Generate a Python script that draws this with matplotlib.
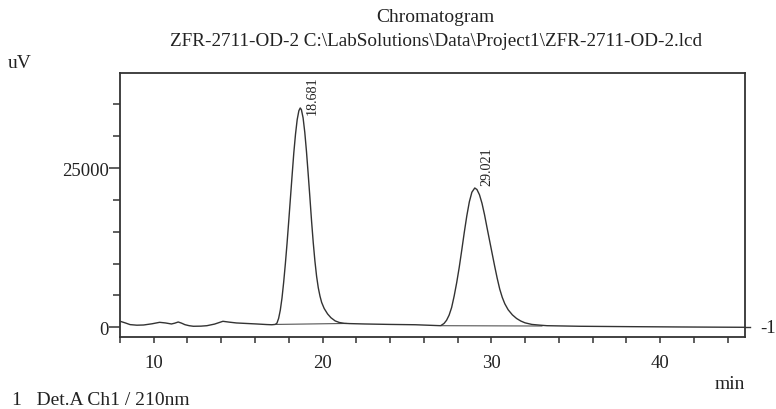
import matplotlib
matplotlib.use("Agg")
from matplotlib import pyplot as plt
from matplotlib.ticker import MultipleLocator

# detector trace, Det.A Ch1 210nm (time in min, signal in uV)
time_min = [8.00, 8.30, 8.60, 9.00, 9.40, 9.90, 10.35, 10.70, 11.05, 11.25, 11.45,
            11.65, 11.85, 12.10, 12.35, 12.80, 13.15, 13.60, 14.10, 14.50, 14.90,
            15.50, 16.10, 16.70, 17.00, 17.20, 17.30, 17.40, 17.50, 17.60, 17.70,
            17.80, 17.90, 18.00, 18.10, 18.20, 18.30, 18.40, 18.50, 18.60, 18.681,
            18.75, 18.85, 18.95, 19.05, 19.15, 19.25, 19.35, 19.45, 19.55, 19.65,
            19.75, 19.85, 19.95, 20.10, 20.30, 20.50, 20.75, 21.00, 21.30, 21.60,
            22.50, 24.00, 25.50, 26.50, 27.00, 27.20, 27.35, 27.50, 27.65, 27.80,
            27.95, 28.10, 28.25, 28.40, 28.55, 28.70, 28.85, 29.021, 29.15, 29.30,
            29.45, 29.60, 29.75, 29.90, 30.05, 30.20, 30.35, 30.50, 30.65, 30.80,
            31.00, 31.25, 31.50, 31.75, 32.00, 32.40, 32.90, 33.30, 35.25, 38.20,
            41.20, 45.00]
signal_uv = [950, 700, 420, 330, 360, 550, 780, 680, 520, 650, 830,
             650, 410, 250, 160, 180, 250, 500, 940, 800, 680,
             600, 520, 430, 400, 450, 650, 1400, 2700, 4600, 7100,
             10000, 13200, 16700, 20300, 23900, 27400, 30300, 32600, 34000, 34430,
             34160, 32870, 30610, 27610, 24120, 20500, 16740, 13330, 10400, 8000,
             6200, 4900, 3900, 2950, 2100, 1500, 1000, 750, 620, 580,
             520, 450, 400, 300, 250, 600, 1100, 1900, 3100, 4900,
             7000, 9400, 12100, 14900, 17500, 19700, 21200, 21870, 21630, 20810,
             19460, 17670, 15610, 13600, 11600, 9600, 7700, 6000, 4700, 3700,
             2750, 1950, 1380, 980, 700, 450, 330, 250, 160, 100,
             50, 0]

# retention times and peak heights used for the peak labels
peak_times = [18.681, 29.021]
peak_heights = [34430, 21870]

# integration baselines drawn under each peak: (start, end) in min and uV
base_t = [(17.25, 21.40), (27.05, 33.00)]
base_v = [(450, 600), (250, 200)]

# label offsets from the apex, in points
label_dx = [8.5, 8.5]
label_dy = [-4.5, 2.0]

plt.rcParams["font.family"] = ["Liberation Serif", "DejaVu Serif"]
ink = "#333333"
txt = "#222222"

fig = plt.figure(figsize=(7.76, 4.10), dpi=100)
ax = fig.add_axes([0.1546, 0.1749, 0.8054, 0.6446])

for (t0, t1), (v0, v1) in zip(base_t, base_v):
    ax.plot([t0, t1], [v0, v1], color="#555555", lw=0.8)
ax.plot(time_min, signal_uv, color=ink, lw=1.0)

for t, h, dx, dy in zip(peak_times, peak_heights, label_dx, label_dy):
    ax.annotate(f"{t:.3f}", xy=(t, h), xytext=(dx, dy), textcoords="offset points",
                rotation=90, ha="center", va="bottom", fontsize=10.2, color=txt)

ax.set_xlim(8.0, 45.03)
ax.set_ylim(-1570, 39920)

ax.xaxis.set_major_locator(MultipleLocator(10))
ax.xaxis.set_minor_locator(MultipleLocator(2))
ax.yaxis.set_major_locator(MultipleLocator(25000))
ax.yaxis.set_minor_locator(MultipleLocator(5000))
ax.tick_params(axis="x", which="both", direction="out", length=4, width=1.1,
               colors=ink, labelcolor=txt, labelsize=13.5, pad=8)
ax.tick_params(axis="y", which="major", direction="out", length=8, width=1.1,
               colors=ink, labelcolor=txt, labelsize=13.5, pad=0)
ax.tick_params(axis="y", which="minor", direction="out", length=5, width=1.1, colors=ink)
for side in ax.spines.values():
    side.set_color(ink)
    side.set_linewidth(1.3)

# channel marker on the right edge at the zero level
ytrans = ax.get_yaxis_transform()
ax.plot([1.0, 1.008], [0, 0], color=ink, lw=1.0, transform=ytrans, clip_on=False)
ax.text(1.024, 0, "-1", transform=ytrans, ha="left", va="center",
        fontsize=13.5, color=txt)

fig.text(0.5606, 0.958, "Chromatogram", ha="center", va="center",
         fontsize=14, color=txt)
fig.text(0.5625, 0.900, "ZFR-2711-OD-2 C:\\LabSolutions\\Data\\Project1\\ZFR-2711-OD-2.lcd",
         ha="center", va="center", fontsize=13.8, color=txt)
fig.text(0.026, 0.845, "uV", ha="center", va="center", fontsize=14, color=txt)
fig.text(0.960, 0.062, "min", ha="right", va="center", fontsize=14, color=txt)
fig.text(0.016, 0.024, "1   Det.A Ch1 / 210nm", ha="left", va="center",
         fontsize=14, color=txt)

fig.savefig("out.png", dpi=100, facecolor="white")
